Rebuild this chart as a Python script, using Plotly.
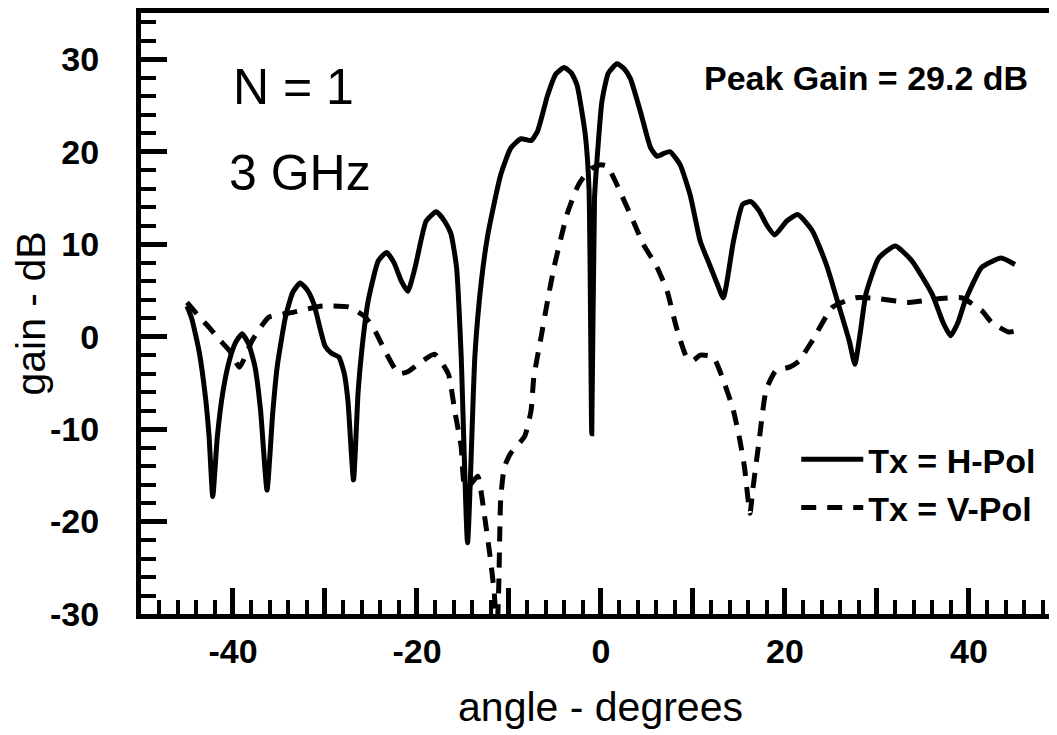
import plotly.graph_objects as go

# ---- data ----
angle_h = [-45.0, -44.5, -43.7, -43.0, -42.6, -42.2, -41.7, -41.1, -40.4, -39.7, -39.0, -38.3,
           -37.6, -37.0, -36.3, -35.7, -35.2, -34.3, -33.5, -32.7, -31.9, -31.2, -30.0, -29.3,
           -28.5, -27.9, -27.5, -26.9, -26.4, -26.0, -25.3, -24.2, -23.3, -22.5, -21.7, -21.0,
           -20.2, -19.0, -17.9, -17.0, -16.3, -15.7, -15.2, -14.5, -13.7, -13.0, -12.3, -10.9,
           -9.8, -8.7, -7.6, -6.9, -5.8, -4.9, -4.0, -3.2, -2.6, -1.7, -1.3, -1.0, -0.7, -0.4,
           0.1, 0.8, 1.75, 2.5, 3.2, 4.3, 5.4, 6.1, 6.8, 7.5, 8.6, 9.7, 10.8, 11.8, 12.6, 13.3,
           14.4, 15.4, 16.3, 17.2, 18.0, 18.9, 20.2, 21.4, 23.0, 24.5, 25.9, 27.0, 27.6, 28.2,
           28.8, 30.2, 32.0, 33.8, 36.0, 37.2, 38.0, 38.8, 39.6, 41.4, 43.5, 45.0]
gain_h = [3.3, 2.0, -1.5, -6.5, -10.8, -17.3, -10.8, -6.0, -2.6, -0.6, 0.3, -0.8,
          -3.3, -8.0, -16.6, -8.5, -3.3, 2.1, 4.8, 5.8, 5.0, 3.5, -1.0, -1.8,
          -2.2, -4.0, -7.0, -15.5, -6.0, -1.5, 3.9, 8.2, 9.1, 8.0, 6.0, 4.9,
          7.5, 12.5, 13.5, 12.5, 11.1, 7.5, -2.0, -22.3, -2.0, 6.0, 11.0, 17.5,
          20.4, 21.4, 21.2, 22.2, 26.1, 28.4, 29.1, 28.5, 27.2, 21.8, 16.0, -10.5, 15.0, 19.5,
          25.4, 28.5, 29.5, 29.0, 27.9, 24.3, 20.4, 19.5, 19.8, 20.0, 18.6, 15.3, 10.3, 7.8, 5.8, 4.2,
          10.3, 14.3, 14.6, 13.6, 12.1, 11.0, 12.5, 13.2, 11.4, 7.8, 3.2, -0.5, -3.0, 0.5,
          4.6, 8.5, 9.8, 8.2, 4.6, 1.5, 0.1, 1.5, 3.9, 7.5, 8.5, 7.8]

angle_v = [-45.0, -43.8, -42.6, -41.5, -40.4, -39.3, -38.6, -37.9, -36.1, -33.6, -30.3, -27.4,
           -25.6, -24.5, -23.5, -22.0, -21.0, -19.9, -18.1, -16.6, -15.9, -15.2, -14.8, -14.2,
           -13.4, -12.7, -12.1, -11.6, -11.3, -11.1, -10.9, -10.5, -9.8, -8.3, -7.6, -7.3,
           -6.5, -5.8, -5.1, -3.7, -2.6, -2.0, -1.0, 0.0, 0.7, 1.75, 3.5, 4.6, 6.1, 7.2, 8.2,
           9.3, 10.0, 10.8, 12.2, 13.3, 14.4, 15.1, 15.6, 16.2, 16.5, 17.2, 17.95, 19.0, 20.5,
           21.6, 22.3, 23.0, 25.2, 27.7, 30.2, 33.5, 36.7, 39.2, 41.4, 42.5, 44.3, 45.0]
gain_v = [3.7, 2.3, 1.0, -0.3, -1.5, -3.3, -2.0, -0.4, 2.1, 2.6, 3.3, 3.2,
          2.1, 0.5, -1.5, -4.0, -3.8, -3.0, -1.9, -4.0, -8.0, -11.9, -16.2, -16.0,
          -15.1, -19.1, -23.4, -27.7, -32.0, -26.6, -17.6, -14.1, -12.6, -10.8, -8.0, -4.4,
          0.0, 3.9, 7.5, 13.2, 16.1, 17.1, 18.2, 18.6, 18.4, 16.4, 12.5, 10.0, 7.5, 4.9, 1.0,
          -2.2, -2.6, -2.0, -2.2, -4.7, -8.0, -11.2, -14.1, -19.1, -16.6, -11.2, -5.8, -3.7, -3.3,
          -2.6, -1.5, -0.4, 3.2, 4.2, 4.1, 3.7, 4.1, 4.2, 2.8, 1.5, 0.5, 0.6]

x_tickvals = [-40, -30, -20, -10, 0, 10, 20, 30, 40]
x_ticktext = ["-40", "", "-20", "", "0", "", "20", "", "40"]
y_tickvals = [-30, -20, -10, 0, 10, 20, 30]
y_ticktext = ["-30", "-20", "-10", "0", "10", "20", "30"]

series_names = ["Tx = H-Pol", "Tx = V-Pol"]

FONT = "Liberation Sans"

fig = go.Figure()
fig.add_trace(go.Scatter(x=angle_h, y=gain_h, mode="lines", name=series_names[0], legendgroup="h",
                         line=dict(color="black", width=5, shape="spline", smoothing=0.5)))
fig.add_trace(go.Scatter(x=angle_v, y=gain_v, mode="lines", name=series_names[1], legendgroup="v",
                         line=dict(color="black", width=5, dash="15px,11px",
                                   shape="spline", smoothing=0.5)))

axis_common = dict(
    showgrid=False, zeroline=False, showline=True, linecolor="black", linewidth=5,
    mirror=True, ticks="inside", tickcolor="black", tickwidth=5, ticklen=26,
    tickfont=dict(family=FONT, size=34, color="black", weight="bold"),
)

fig.update_xaxes(
    range=[-50, 49.9], tickmode="array", tickvals=x_tickvals, ticktext=x_ticktext,
    minor=dict(ticks="inside", dtick=2, tick0=0, ticklen=14, tickwidth=4, tickcolor="black"),
    title=dict(text="angle - degrees", font=dict(family=FONT, size=41, color="black"), standoff=25),
    ticklabelstandoff=3,
    **axis_common,
)
fig.update_yaxes(
    range=[-30, 35], tickmode="array", tickvals=y_tickvals, ticktext=y_ticktext,
    minor=dict(ticks="inside", dtick=2, tick0=0, ticklen=15, tickwidth=4, tickcolor="black"),
    title=dict(text="gain - dB", font=dict(family=FONT, size=41, color="black"), standoff=0),
    ticklabelstandoff=30,
    **axis_common,
)

fig.add_annotation(x=-33.4, y=27.0, xref="x", yref="y", text="N = 1", showarrow=False,
                   font=dict(family=FONT, size=50, color="black"))
fig.add_annotation(x=-32.7, y=17.7, xref="x", yref="y", text="3 GHz", showarrow=False,
                   font=dict(family=FONT, size=50, color="black"))
fig.add_annotation(x=28.8, y=28.0, xref="x", yref="y", text="Peak Gain = 29.2 dB", showarrow=False,
                   font=dict(family=FONT, size=34, color="black", weight="bold"))

fig.update_layout(
    width=1057, height=735,
    margin=dict(l=133, r=0, t=1, b=129),
    paper_bgcolor="white", plot_bgcolor="white",
    showlegend=True,
    legend=dict(x=0.713, y=0.305, xanchor="left", yanchor="top", bgcolor="rgba(0,0,0,0)",
                font=dict(family=FONT, size=34, color="black", weight="bold"),
                itemwidth=62, tracegroupgap=1),
)

fig.write_html("out.html")
